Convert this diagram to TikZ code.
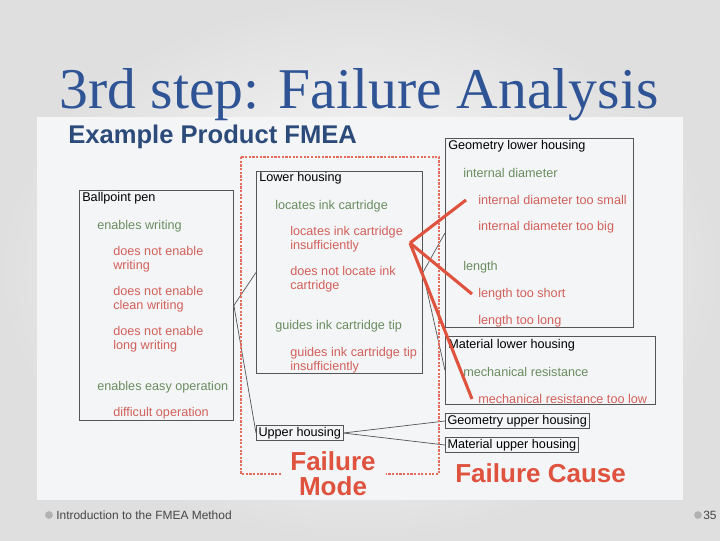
\documentclass[tikz,border=0pt]{standalone}
\usepackage{fontspec}
\setmainfont{Liberation Sans}
\newfontfamily\titlefont{Liberation Serif}
\definecolor{titleblue}{RGB}{46,84,150}
\definecolor{headblue}{RGB}{44,74,122}
\definecolor{funcgreen}{RGB}{106,140,96}
\definecolor{failred}{RGB}{210,96,90}
\definecolor{markred}{RGB}{222,82,62}
\definecolor{photobg}{RGB}{244,245,246}
\definecolor{framegray}{RGB}{85,85,85}

\begin{document}
\begin{tikzpicture}[
        x=0.025cm, y=-0.025cm,
        box/.style={draw=framegray, line width=0.6pt, anchor=north west, inner sep=0pt},
        tagbox/.style={draw=framegray, line width=0.6pt, anchor=west, inner xsep=1.5pt, inner ysep=1.2pt, font=\fontsize{9}{10}\selectfont},
        head/.style={anchor=west, inner sep=0pt, font=\fontsize{9}{10}\selectfont, text=black},
        func/.style={head, text=funcgreen},
        fail/.style={head, text=failred, align=left},
        link/.style={framegray, line width=0.5pt},
        cause/.style={markred, line width=2.2pt},
        modeframe/.style={markred!85, densely dotted, line width=1.6pt},
        bigred/.style={font=\bfseries\fontsize{18.5}{18}\selectfont, text=markred},
        dot/.style={circle, fill=gray!60, inner sep=0pt, minimum size=5.5pt},
        foot/.style={anchor=west, inner sep=0pt, font=\fontsize{8.5}{10}\selectfont, text=gray!55!black}
    ]
        \useasboundingbox (0,0) rectangle (720,540);
        \shade[inner color=white, outer color=gray!25] (0,0) rectangle (720,540);
        \fill[photobg] (37,117) rectangle (683,500);

        \node[font=\titlefont\fontsize{41}{41}\selectfont, text=titleblue] (title) at (359,95) {3rd step: Failure Analysis};
        \node[anchor=west, inner sep=0pt, font=\bfseries\fontsize{18.2}{20}\selectfont, text=headblue] (headline) at (68,137) {Example Product FMEA};

        \node[box, minimum width=3.85cm, minimum height=5.75cm] (pen) at (79,190) {};
        \node[head] (penname) at (82,198) {Ballpoint pen};
        \node[func] (fwrite) at (97,226) {enables writing};
        \node[fail] (fw1) at (113,259) {does not enable\\writing};
        \node[fail] (fw2) at (113,299) {does not enable\\clean writing};
        \node[fail] (fw3) at (113,339) {does not enable\\long writing};
        \node[func] (fop) at (97,387) {enables easy operation};
        \node[fail] (fo1) at (113,413) {difficult operation};

        \node[box, minimum width=4.15cm, minimum height=5.05cm] (lower) at (256,171) {};
        \node[head] (lowername) at (259,178) {Lower housing};
        \node[func] (flocate) at (275,206) {locates ink cartridge};
        \node[fail] (fl1) at (290,239) {locates ink cartridge\\insufficiently};
        \node[fail] (fl2) at (290,279) {does not locate ink\\cartridge};
        \node[func] (fguide) at (275,326) {guides ink cartridge tip};
        \node[fail] (fg1) at (290,360) {guides ink cartridge tip\\insufficiently};

        \node[tagbox] (upper) at (256,433) {Upper housing};

        \node[box, minimum width=4.7cm, minimum height=4.725cm] (geolow) at (445,138) {};
        \node[head] (geolowname) at (448,146) {Geometry lower housing};
        \node[func] (cdiam) at (463,173) {internal diameter};
        \node[fail] (dsmall) at (478,200) {internal diameter too small};
        \node[fail] (dbig) at (478,227) {internal diameter too big};
        \node[func] (clength) at (463,267) {length};
        \node[fail] (lshort) at (478,294) {length too short};
        \node[fail] (llong) at (478,321) {length too long};

        \node[box, minimum width=5.25cm, minimum height=1.7cm] (matlow) at (445,336) {};
        \node[head] (matlowname) at (448,345) {Material lower housing};
        \node[func] (cmech) at (463,372) {mechanical resistance};
        \node[fail] (mlow) at (478,399) {mechanical resistance too low};

        \node[tagbox] (geoup) at (445,421) {Geometry upper housing};
        \node[tagbox] (matup) at (445,445) {Material upper housing};

        \draw[link] (pen.east) -- (lower.west);
        \draw[link] (pen.east) -- (upper.west);
        \draw[link] (lower.east) -- (geolow.west);
        \draw[link] (lower.east) -- (matlow.west);
        \draw[link] (upper.east) -- (geoup.west);
        \draw[link] (upper.east) -- (matup.west);

        \draw[modeframe] (241,157) rectangle (439,474);
        \node[bigred, fill=photobg, align=center, inner xsep=7pt, inner ysep=1pt] (modelabel) at (333,474) {Failure\\Mode};
        \node[bigred, anchor=west, inner sep=0pt] (causelabel) at (455,473) {Failure Cause};

        \coordinate (apex) at (410,243);
        \draw[cause] (apex) -- ([xshift=-0.3cm]dsmall.west);
        \draw[cause] (apex) -- ([xshift=-0.15cm]lshort.west);
        \draw[cause] (apex) -- ([xshift=-0.15cm]mlow.west);

        \node[dot] (footdot) at (49,515) {};
        \node[foot] (foottext) at (56,515) {Introduction to the FMEA Method};
        \node[dot] (pagedot) at (698,515) {};
        \node[foot] (pagenum) at (703,515) {35};
    \end{tikzpicture}
\end{document}
